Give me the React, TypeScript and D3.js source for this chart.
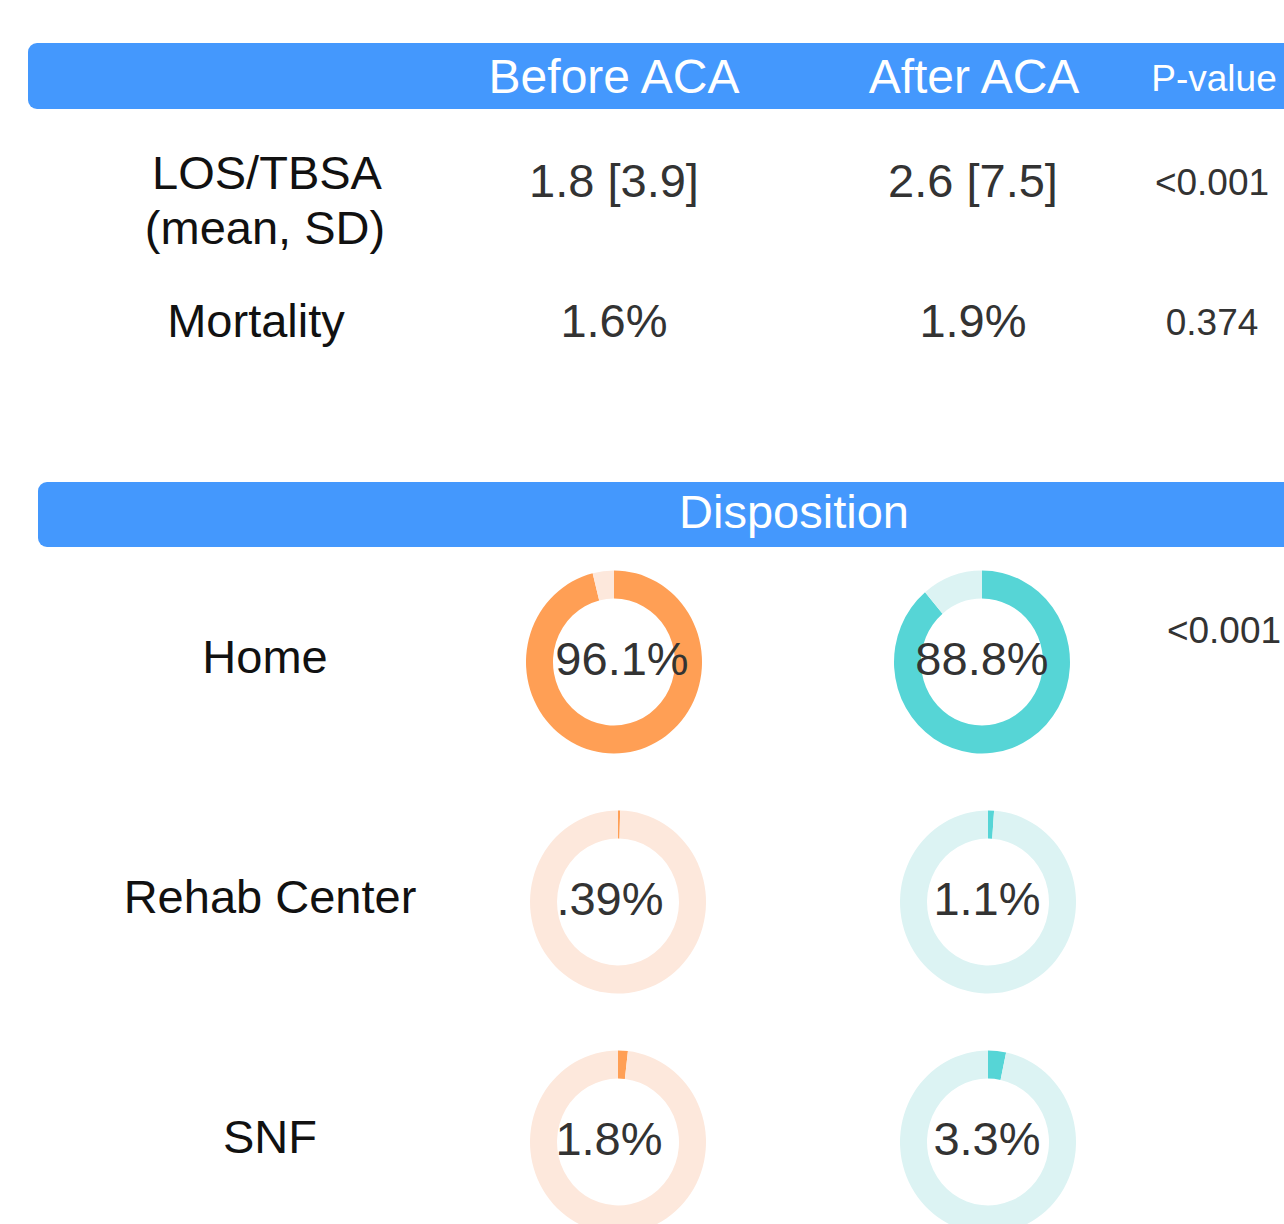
import React from "react";
import * as d3 from "d3";

const columnHeaders = ["Before ACA", "After ACA", "P-value"];
const summaryRows = ["LOS/TBSA|(mean, SD)", "Mortality"];
const summaryBefore = ["1.8 [3.9]", "1.6%"];
const summaryAfter = ["2.6 [7.5]", "1.9%"];
const summaryP = ["<0.001", "0.374"];

const dispositionTitle = "Disposition";
const dispositionCategories = ["Home", "Rehab Center", "SNF"];
const dispositionBefore = [96.1, 0.39, 1.8];
const dispositionAfter = [88.8, 1.1, 3.3];
const dispositionBeforeLabels = ["96.1%", ".39%", "1.8%"];
const dispositionAfterLabels = ["88.8%", "1.1%", "3.3%"];
const dispositionP = ["<0.001"];

const BLUE = "#4498fd";
const ORANGE = "#ff9f55";
const ORANGE_LIGHT = "#fde8dc";
const TEAL = "#56d5d6";
const TEAL_LIGHT = "#dcf3f3";
const FONT = "'Liberation Sans', Arial, sans-serif";

const pie = d3.pie<number>().sort(null).value((d) => d);
const arc = d3.arc<d3.PieArcDatum<number>>().innerRadius(61).outerRadius(88);

function Donut({ cx, cy, value, label, color, light, labelDx }: any) {
  const arcs = pie([value, 100 - value]);
  return (
    <g>
      <g transform={`translate(${cx},${cy}) scale(1,1.04)`}>
        {arcs.map((a, i) => (
          <path key={i} d={arc(a) || ""} fill={i === 0 ? color : light} />
        ))}
      </g>
      <text x={cx + labelDx} y={cy + 13} textAnchor="middle" fontSize={47} fill="#333" fontFamily={FONT}>
        {label}
      </text>
    </g>
  );
}

export default function App() {
  const colX = [614, 974, 1214];
  const rowY = [189, 337];
  const dispY = [662, 902, 1142];
  const beforeX = [614, 618, 618];
  const afterX = [982, 988, 988];
  const beforeLabelDx = [8, -8, -9];
  const afterLabelDx = [0, -1, -1];
  return (
    <svg width={1284} height={1224} style={{ position: "absolute", left: 0, top: 0, background: "#fff" }} fontFamily={FONT}>
      <rect x={0} y={0} width={1284} height={1224} fill="#fff" />
      <rect x={28} y={43} width={1300} height={66} rx={9} fill={BLUE} />
      {columnHeaders.map((h, i) => (
        <text key={h} x={colX[i]} y={i === 2 ? 91 : 93} textAnchor="middle" fontSize={i === 2 ? 37 : 48} fill="#fff">
          {h}
        </text>
      ))}
      {summaryRows.map((r, i) => {
        const parts = r.split("|");
        return (
          <g key={r}>
            {parts.length > 1 ? (
              <>
                <text x={267} y={189} textAnchor="middle" fontSize={47} fill="#111">{parts[0]}</text>
                <text x={265} y={244} textAnchor="middle" fontSize={47} fill="#111">{parts[1]}</text>
              </>
            ) : (
              <text x={256} y={rowY[i]} textAnchor="middle" fontSize={47} fill="#111">{parts[0]}</text>
            )}
            <text x={colX[0]} y={i === 0 ? 197 : 337} textAnchor="middle" fontSize={47} fill="#333">{summaryBefore[i]}</text>
            <text x={973} y={i === 0 ? 197 : 337} textAnchor="middle" fontSize={47} fill="#333">{summaryAfter[i]}</text>
            <text x={1212} y={i === 0 ? 195 : 335} textAnchor="middle" fontSize={37} fill="#333">{summaryP[i]}</text>
          </g>
        );
      })}
      <rect x={38} y={482} width={1300} height={65} rx={9} fill={BLUE} />
      <text x={794} y={528} textAnchor="middle" fontSize={47} fill="#fff">{dispositionTitle}</text>
      {dispositionCategories.map((c, i) => (
        <g key={c}>
          <text x={i === 0 ? 265 : 270} y={dispY[i] + 11} textAnchor="middle" fontSize={47} fill="#111">{c}</text>
          <Donut cx={beforeX[i]} cy={dispY[i]} value={dispositionBefore[i]} label={dispositionBeforeLabels[i]} color={ORANGE} light={ORANGE_LIGHT} labelDx={beforeLabelDx[i]} />
          <Donut cx={afterX[i]} cy={dispY[i]} value={dispositionAfter[i]} label={dispositionAfterLabels[i]} color={TEAL} light={TEAL_LIGHT} labelDx={afterLabelDx[i]} />
        </g>
      ))}
      <text x={1224} y={643} textAnchor="middle" fontSize={37} fill="#333">{dispositionP[0]}</text>
    </svg>
  );
}
